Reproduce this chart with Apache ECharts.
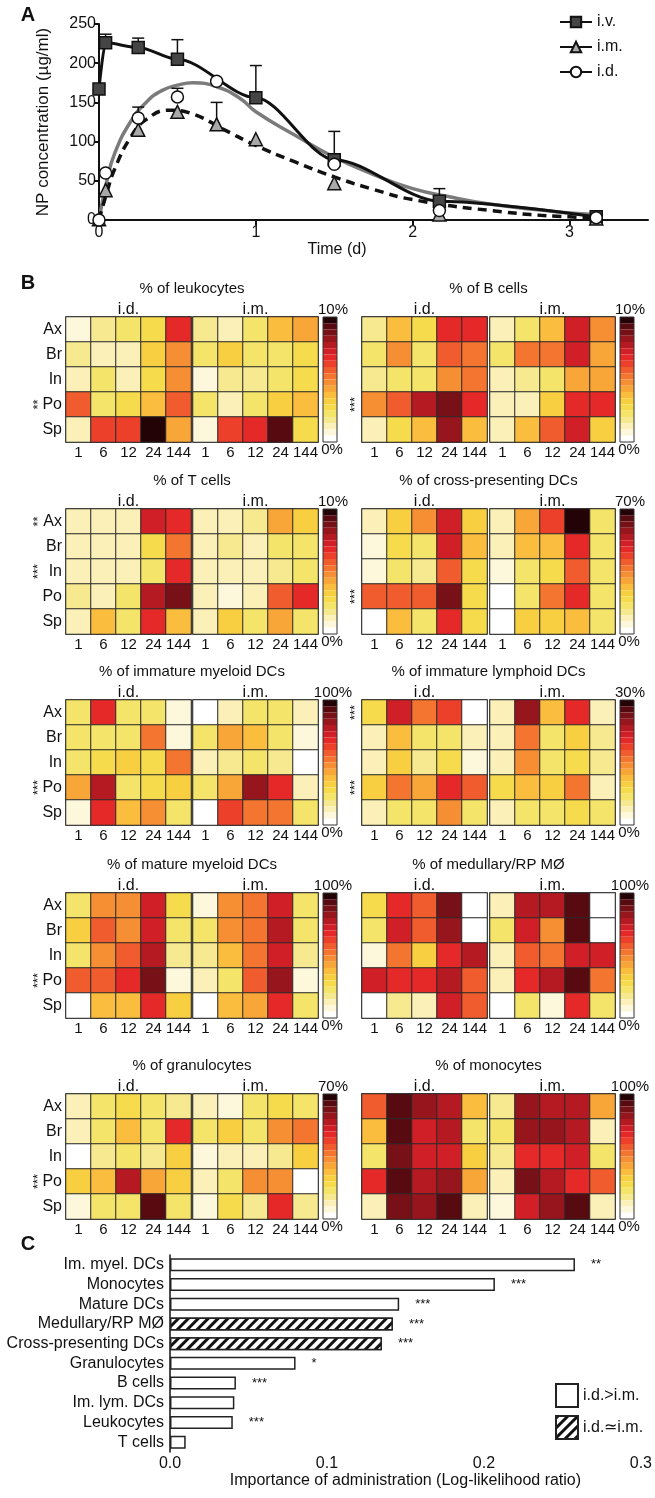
<!DOCTYPE html>
<html>
<head>
<meta charset="utf-8">
<script src="https://cdn.jsdelivr.net/npm/echarts@6/dist/echarts.min.js"></script>
<style>
html, body { margin: 0; padding: 0; background: #fff; }
#main { width: 655px; height: 1498px; }
</style>
</head>
<body>
<div id="main"></div>
<script>
// ---------- panel A : NP concentration ----------
var ivTime = [0, 0.042, 0.25, 0.5, 1, 1.5, 2.17, 3.17];
var ivConc = [167, 226, 220, 205, 156, 77, 24, 4];
var ivErrTop = [null, 237, 232, 230, 197, 113, 40, null];

var imTime = [0, 0.042, 0.25, 0.5, 0.75, 1, 1.5, 2.17, 3.17];
var imConc = [1, 38, 115, 138, 122, 103, 47, 7, 2];
var imErrTop = [null, null, null, null, 150, null, null, null, null];

var idTime = [0, 0.042, 0.25, 0.5, 0.75, 1.5, 2.17, 3.17];
var idConc = [0, 60, 130, 157, 177, 71, 12, 3];
var idErrTop = [null, null, 144, 168, null, null, null, null];

// fitted curves
var idFitTime = [0, 0.05, 0.1, 0.2, 0.3, 0.4, 0.5, 0.6, 0.75, 0.9, 1.0, 1.25, 1.5, 1.75, 2.0, 2.25, 2.5, 3.0, 3.2];
var idFitConc = [0, 50, 85, 125, 150, 165, 172, 175, 170, 155, 138, 108, 80, 58, 40, 29, 20, 9, 7];
var imFitTime = [0, 0.05, 0.1, 0.2, 0.3, 0.45, 0.6, 0.8, 1.0, 1.25, 1.5, 1.75, 2.0, 2.5, 3.0, 3.2];
var imFitConc = [0, 35, 65, 105, 128, 140, 135, 115, 95, 74, 55, 39, 26, 12, 4, 3];

// ---------- panel B : heatmaps (rows Ax..Sp, columns 1..144 h) ----------
var rowNames = ['Ax', 'Br', 'In', 'Po', 'Sp'];
var hours = ['1', '6', '12', '24', '144'];

var leukoId = [[0.7, 1.7, 2.2, 2.9, 6.7], [1.7, 1.2, 1.2, 3.2, 4.7], [1.2, 2.2, 1.2, 2.7, 4.7], [5.7, 2.2, 2.7, 3.7, 5.7], [1.0, 6.2, 6.2, 10, 4.2]];
var leukoIm = [[1.7, 1.2, 2.2, 3.7, 4.2], [2.2, 3.4, 2.2, 2.2, 2.7], [0.7, 1.7, 1.7, 2.2, 2.7], [2.2, 1.4, 2.2, 3.2, 3.9], [0.9, 6.4, 6.7, 9.2, 2.7]];
var leukoStars = ['', '', '', '**', ''];

var bId = [[1.7, 3.7, 2.7, 6.7, 6.9], [2.2, 4.7, 2.2, 5.7, 5.4], [1.9, 2.2, 2.2, 4.7, 5.2], [4.7, 5.9, 7.9, 8.9, 6.7], [1.0, 2.7, 3.7, 8.4, 3.9]];
var bIm = [[1.4, 2.2, 3.7, 7.4, 4.7], [2.2, 5.4, 5.2, 7.2, 4.2], [1.0, 1.7, 2.2, 4.4, 4.2], [1.2, 1.0, 3.2, 6.7, 6.7], [1.0, 3.7, 5.7, 7.2, 3.2]];
var bStars = ['', '', '', '***', ''];

var tId = [[1.0, 1.4, 1.4, 7.4, 6.7], [1.4, 1.2, 1.2, 2.7, 5.2], [1.2, 1.4, 1.4, 2.2, 6.9], [1.9, 1.4, 2.2, 7.7, 8.7], [1.4, 3.7, 2.2, 6.7, 3.9]];
var tIm = [[1.4, 1.0, 1.7, 4.2, 3.2], [1.4, 1.9, 1.4, 2.2, 2.2], [1.0, 1.2, 1.4, 1.7, 2.2], [1.4, 0.7, 1.4, 5.7, 6.7], [1.0, 3.2, 2.2, 4.4, 2.4]];
var tStars = ['**', '', '***', '', ''];

var cpId = [[9, 23, 33, 52, 22], [5, 20, 15, 50, 27], [5, 15, 12, 40, 19], [41, 41, 41, 61, 19], [3, 26, 17, 47, 19]];
var cpIm = [[7, 31, 45, 68, 17], [7, 26, 26, 47, 17], [5, 17, 20, 40, 17], [0.5, 17, 36, 48, 15], [3, 24, 24, 26, 17]];
var cpStars = ['', '', '', '***', ''];

var imdId = [[22, 67, 22, 24, 8], [22, 22, 22, 54, 8], [24, 29, 32, 27, 54], [42, 77, 22, 29, 32], [7, 67, 37, 47, 24]];
var imdIm = [[3, 14, 22, 22, 12], [22, 44, 37, 22, 7], [14, 19, 22, 17, 3], [24, 42, 82, 69, 12], [3, 64, 52, 52, 22]];
var imdStars = ['', '', '', '***', ''];

var ildId = [[8.1, 22, 15.6, 19, 0.8], [4, 11, 7, 7, 4], [3.6, 9.6, 5, 8.7, 2], [10, 15.6, 13, 20, 17.7], [3.6, 7, 7, 14, 7]];
var ildIm = [[4, 24.6, 11.7, 20, 3.6], [4, 15.6, 7, 10, 5], [3.6, 14, 7, 8, 5], [8, 11.7, 10, 15.6, 3.6], [4, 7, 7, 8.5, 6.5]];
var ildStars = ['***', '', '', '***', ''];

var mmId = [[24, 49, 47, 74, 29], [32, 57, 49, 72, 24], [24, 49, 57, 79, 17], [59, 57, 69, 87, 9], [3, 39, 39, 67, 32]];
var mmIm = [[7, 47, 54, 74, 24], [22, 49, 54, 79, 22], [17, 37, 54, 72, 17], [14, 22, 59, 84, 9], [3, 37, 44, 67, 24]];
var mmStars = ['', '', '', '***', ''];

var medId = [[27, 67, 57, 89, 1], [24, 72, 57, 82, 1], [9, 52, 32, 67, 77], [72, 67, 67, 79, 57], [3, 17, 12, 72, 57]];
var medIm = [[14, 79, 79, 94, 1], [22, 74, 47, 94, 1], [12, 57, 54, 72, 74], [12, 69, 77, 92, 54], [3, 22, 9, 67, 24]];
var medStars = ['', '', '', '', ''];

var grId = [[9, 15, 19, 15, 12], [9, 15, 27, 15, 47], [3, 12, 15, 12, 24], [24, 27, 54, 31, 24], [5, 15, 15, 63, 17]];
var grIm = [[7, 5, 15, 19, 15], [15, 24, 15, 33, 38], [5, 9, 9, 12, 24], [7, 15, 33, 33, 0.5], [5, 20, 13, 47, 12]];
var grStars = ['', '', '', '***', ''];

var moId = [[59, 92, 82, 77, 39], [39, 92, 72, 79, 22], [24, 87, 74, 72, 32], [69, 94, 77, 84, 42], [12, 87, 82, 94, 14]];
var moIm = [[17, 82, 77, 77, 44], [22, 82, 84, 77, 12], [17, 67, 69, 72, 24], [12, 87, 77, 69, 57], [5, 74, 82, 92, 12]];
var moStars = ['', '', '', '', ''];

// ---------- panel C : log-likelihood ratio ----------
var cellTypes = ['Im. myel. DCs', 'Monocytes', 'Mature DCs', 'Medullary/RP MØ', 'Cross-presenting DCs', 'Granulocytes', 'B cells', 'Im. lym. DCs', 'Leukocytes', 'T cells'];
var llr = [0.258, 0.207, 0.146, 0.142, 0.135, 0.080, 0.042, 0.041, 0.040, 0.010];
var llrKind = ['gt', 'gt', 'gt', 'eq', 'eq', 'gt', 'gt', 'gt', 'gt', 'gt'];
var llrSig = ['**', '***', '***', '***', '***', '*', '***', '', '***', ''];

var FONT = '"Liberation Sans", Arial, sans-serif';
var INK = '#111';

// 20-step palette of the colour bars, white -> near black
var heatColors = ['#ffffff', '#fdf8dc', '#faf0b8', '#f7e98f', '#f5e46a', '#f6dc4c', '#f9cf42', '#fbbd3d', '#f9a638', '#f68e34',
                  '#f37530', '#f05c2d', '#ec402b', '#e52828', '#d01f26', '#b51a22', '#97151d', '#781017', '#570a10', '#240306'];

var panels = [
    {title: '% of leukocytes', max: 10, id: leukoId, im: leukoIm, stars: leukoStars},
    {title: '% of B cells', max: 10, id: bId, im: bIm, stars: bStars},
    {title: '% of T cells', max: 10, id: tId, im: tIm, stars: tStars},
    {title: '% of cross-presenting DCs', max: 70, id: cpId, im: cpIm, stars: cpStars},
    {title: '% of immature myeloid DCs', max: 100, id: imdId, im: imdIm, stars: imdStars},
    {title: '% of immature lymphoid DCs', max: 30, id: ildId, im: ildIm, stars: ildStars},
    {title: '% of mature myeloid DCs', max: 100, id: mmId, im: mmIm, stars: mmStars},
    {title: '% of medullary/RP MØ', max: 100, id: medId, im: medIm, stars: medStars},
    {title: '% of granulocytes', max: 70, id: grId, im: grIm, stars: grStars},
    {title: '% of monocytes', max: 100, id: moId, im: moIm, stars: moStars}
];

// layout of the heatmap block
var colLayout = [{id: 66, im: 193, bar: 323, starGap: 21}, {id: 362, im: 490, bar: 620, starGap: 0}];
var rowTops = [317, 509, 700, 893, 1094];
var CELL = 25;

function zip(xs, ys) {
    return xs.map(function (x, i) { return [x, ys[i]]; });
}

function makePieces(max) {
    return heatColors.map(function (c, k) {
        var p = {gte: max * k / 20, color: c};
        if (k < 19) p.lt = max * (k + 1) / 20; else p.lte = max;
        return p;
    });
}

function txt(x, y, s, size, opt) {
    opt = opt || {};
    return {
        type: 'text', x: x, y: y, z: 100, silent: true,
        style: {
            text: s, fill: INK,
            font: (opt.bold ? 'bold ' : '') + size + 'px ' + FONT,
            align: opt.align || 'center', verticalAlign: 'middle'
        }
    };
}

var grids = [], xAxes = [], yAxes = [], series = [], visualMaps = [], graphics = [];

// ---------------- panel A ----------------
grids.push({left: 99, right: 7, top: 24, height: 196});
xAxes.push({
    gridIndex: 0, type: 'value', min: 0, max: 3.5, interval: 1,
    axisLine: {lineStyle: {color: INK, width: 2}},
    axisTick: {length: 5, customValues: [0, 1, 2, 3], lineStyle: {color: INK, width: 2}},
    axisLabel: {customValues: [0, 1, 2, 3], fontSize: 16, color: INK, margin: 5, fontFamily: FONT},
    splitLine: {show: false}
});
yAxes.push({
    gridIndex: 0, type: 'value', min: 0, max: 250, interval: 50,
    name: 'NP concentration (µg/ml)', nameLocation: 'middle', nameGap: 47,
    nameTextStyle: {fontSize: 17, color: INK, fontFamily: FONT},
    axisLine: {show: true, lineStyle: {color: INK, width: 2}},
    axisTick: {show: true, length: 4, lineStyle: {color: INK, width: 2}},
    axisLabel: {fontSize: 16, color: INK, margin: 3, fontFamily: FONT},
    splitLine: {show: false}
});

series.push({
    name: 'i.d. fit', type: 'line', xAxisIndex: 0, yAxisIndex: 0, silent: true,
    data: zip(idFitTime, idFitConc), smooth: true, symbol: 'none',
    lineStyle: {color: '#7b7b7b', width: 3.5}, z: 2
});
series.push({
    name: 'i.m. fit', type: 'line', xAxisIndex: 0, yAxisIndex: 0, silent: true,
    data: zip(imFitTime, imFitConc), smooth: true, symbol: 'none',
    lineStyle: {color: INK, width: 3.5, type: [9, 6]}, z: 2
});

var errData = [];
[[ivTime, ivConc, ivErrTop], [imTime, imConc, imErrTop], [idTime, idConc, idErrTop]].forEach(function (g) {
    g[0].forEach(function (t, i) {
        if (g[2][i] != null) errData.push([t, g[1][i], g[2][i]]);
    });
});
series.push({
    type: 'custom', xAxisIndex: 0, yAxisIndex: 0, silent: true, z: 3,
    data: errData, encode: {x: 0, y: [1, 2]},
    renderItem: function (params, api) {
        var lo = api.coord([api.value(0), api.value(1)]);
        var hi = api.coord([api.value(0), api.value(2)]);
        return {
            type: 'group', children: [
                {type: 'line', shape: {x1: lo[0], y1: lo[1], x2: hi[0], y2: hi[1]}, style: {stroke: INK, lineWidth: 1.5}},
                {type: 'line', shape: {x1: hi[0] - 6, y1: hi[1], x2: hi[0] + 6, y2: hi[1]}, style: {stroke: INK, lineWidth: 1.5}}
            ]
        };
    }
});
series.push({
    name: 'i.v.', type: 'line', xAxisIndex: 0, yAxisIndex: 0,
    data: zip(ivTime, ivConc), smooth: 0.3, smoothMonotone: 'x',
    symbol: 'rect', symbolSize: 12, showAllSymbol: true,
    lineStyle: {color: INK, width: 3}, itemStyle: {color: '#454545', borderColor: INK, borderWidth: 1.5}, z: 5
});
series.push({
    name: 'i.m.', type: 'line', xAxisIndex: 0, yAxisIndex: 0,
    data: zip(imTime, imConc), symbol: 'triangle', symbolSize: 13, showAllSymbol: true,
    lineStyle: {opacity: 0}, itemStyle: {color: '#a9a9a9', borderColor: INK, borderWidth: 1.5}, z: 6
});
series.push({
    name: 'i.d.', type: 'line', xAxisIndex: 0, yAxisIndex: 0,
    data: zip(idTime, idConc), symbol: 'circle', symbolSize: 12, showAllSymbol: true,
    lineStyle: {opacity: 0}, itemStyle: {color: '#fff', borderColor: INK, borderWidth: 1.5}, z: 6
});

graphics.push(txt(28, 15, 'A', 20, {bold: true}));
graphics.push(txt(337, 250, 'Time (d)', 16));

// ---------------- panel C ----------------
grids.push({left: 170, right: 11, top: 1255, height: 197});
xAxes.push({
    gridIndex: 1, type: 'value', min: 0, max: 0.3, interval: 0.1,
    name: 'Importance of administration (Log-likelihood ratio)', nameLocation: 'middle', nameGap: 19,
    nameTextStyle: {fontSize: 16, color: INK, fontFamily: FONT},
    axisLine: {lineStyle: {color: INK, width: 1.5}},
    axisTick: {length: 4, lineStyle: {color: INK}},
    axisLabel: {fontSize: 16, color: INK, margin: 4, fontFamily: FONT, formatter: function (v) { return v.toFixed(1); }},
    splitLine: {show: false}
});
yAxes.push({
    gridIndex: 1, type: 'category', data: cellTypes, inverse: true,
    axisLine: {lineStyle: {color: INK, width: 1.5}},
    axisTick: {alignWithLabel: true, length: 4, lineStyle: {color: INK}},
    axisLabel: {fontSize: 16, color: INK, margin: 6, interval: 0, fontFamily: FONT}
});

var hatch = {symbol: 'rect', symbolSize: 1, color: INK, backgroundColor: '#fff', dashArrayX: [1, 0], dashArrayY: [3, 3.5], rotation: -Math.PI / 4};
function starLabel() {
    return {show: true, position: 'right', distance: 16, fontSize: 13, color: INK, fontFamily: FONT,
        formatter: function (p) { return llrSig[p.dataIndex]; }};
}
series.push({
    name: 'i.d.>i.m.', type: 'bar', xAxisIndex: 1, yAxisIndex: 1, barWidth: 13, barGap: '-100%',
    data: llr.map(function (v, i) { return llrKind[i] === 'gt' ? v : '-'; }),
    itemStyle: {color: '#fff', borderColor: '#222', borderWidth: 1.5}, label: starLabel()
});
series.push({
    name: 'i.d.≃i.m.', type: 'bar', xAxisIndex: 1, yAxisIndex: 1, barWidth: 13, barGap: '-100%',
    data: llr.map(function (v, i) { return llrKind[i] === 'eq' ? v : '-'; }),
    itemStyle: {color: '#fff', borderColor: '#222', borderWidth: 1.5, decal: hatch}, label: starLabel()
});
graphics.push(txt(28, 1244, 'C', 20, {bold: true}));

// ---------------- panel B ----------------
graphics.push(txt(28, 283, 'B', 20, {bold: true}));

panels.forEach(function (p, k) {
    var col = k % 2, row = Math.floor(k / 2);
    var lay = colLayout[col], top = rowTops[row];
    var sIdx = [];
    [['i.d.', p.id, lay.id], ['i.m.', p.im, lay.im]].forEach(function (route, j) {
        var gi = grids.length;
        grids.push({left: route[2], top: top, width: CELL * 5, height: CELL * 5, show: true,
            borderColor: '#2b2b2b', borderWidth: 1.5, backgroundColor: 'rgba(0,0,0,0)'});
        var xi = xAxes.length;
        xAxes.push({gridIndex: gi, type: 'category', data: hours,
            axisLine: {show: false}, axisTick: {show: false}, splitLine: {show: false},
            axisLabel: {fontSize: 15, color: INK, margin: 3, interval: 0, fontFamily: FONT}});
        var yi = yAxes.length;
        yAxes.push({gridIndex: gi, type: 'category', data: rowNames, inverse: true,
            axisLine: {show: false}, axisTick: {show: false}, splitLine: {show: false},
            axisLabel: {show: col === 0 && j === 0, fontSize: 16, color: INK, margin: 4, interval: 0, fontFamily: FONT}});
        if (j === 0) {
            yAxes.push({gridIndex: gi, type: 'category', data: rowNames, inverse: true, position: 'left',
                axisLine: {show: false}, axisTick: {show: false}, splitLine: {show: false},
                axisLabel: {rotate: 90, margin: lay.starGap, fontSize: 13, color: INK, interval: 0, fontFamily: FONT,
                    formatter: function (v, i) { return p.stars[i]; }}});
        }
        var cells = [];
        route[1].forEach(function (vals, r) {
            vals.forEach(function (v, c) { cells.push([c, r, v]); });
        });
        sIdx.push(series.length);
        series.push({
            type: 'heatmap', name: p.title + ' ' + route[0], xAxisIndex: xi, yAxisIndex: yi, data: cells,
            itemStyle: {borderColor: '#2b2b2b', borderWidth: 1}, emphasis: {disabled: true}, silent: true
        });
        graphics.push(txt(route[2] + CELL * 2.5, top - 7, route[0], 16));
    });
    visualMaps.push({
        type: 'piecewise', seriesIndex: sIdx, pieces: makePieces(p.max), orient: 'vertical',
        left: lay.bar, top: top, padding: 0, itemWidth: 14, itemHeight: CELL * 5 / 20, itemGap: 0,
        itemSymbol: 'rect', showLabel: false, selectedMode: false, hoverLink: false
    });
    graphics.push({type: 'rect', z: 100, silent: true, shape: {x: lay.bar, y: top, width: 14, height: CELL * 5},
        style: {fill: 'none', stroke: '#333', lineWidth: 1}});
    graphics.push(txt(lay.bar + 10, top - 7, p.max + '%', 15));
    graphics.push(txt(lay.bar + 9, top + CELL * 5 + 8, '0%', 15));
    graphics.push(txt((lay.id + lay.im + CELL * 5) / 2, top - 28, p.title, 15));
});

var chart = echarts.init(document.getElementById('main'));
chart.setOption({
    backgroundColor: '#fff',
    animation: false,
    textStyle: {fontFamily: FONT},
    legend: [
        {
            data: [
                {name: 'i.v.', lineStyle: {width: 2}},
                {name: 'i.m.', lineStyle: {color: INK, width: 2, opacity: 1}},
                {name: 'i.d.', lineStyle: {color: INK, width: 2, opacity: 1}}
            ],
            orient: 'vertical', left: 554, top: 9, itemWidth: 32, itemHeight: 13, itemGap: 9,
            selectedMode: false, textStyle: {fontSize: 16, color: INK}
        },
        {
            data: ['i.d.>i.m.', 'i.d.≃i.m.'],
            orient: 'vertical', left: 550, top: 1378, itemWidth: 22, itemHeight: 23, itemGap: 7,
            icon: 'rect', selectedMode: false, textStyle: {fontSize: 16, color: INK}
        }
    ],
    grid: grids,
    xAxis: xAxes,
    yAxis: yAxes,
    visualMap: visualMaps,
    series: series,
    graphic: graphics
});
</script>
</body>
</html>
